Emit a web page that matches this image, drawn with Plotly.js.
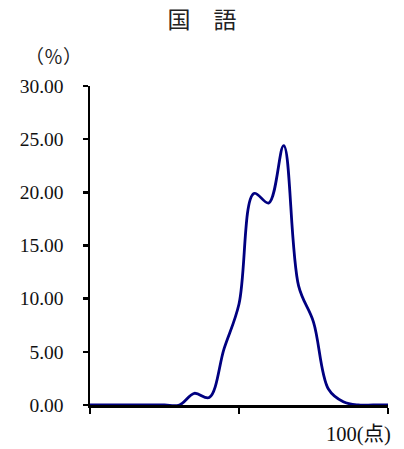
<!DOCTYPE html>
<html><head><meta charset="utf-8">
<script src="https://cdn.plot.ly/plotly-3.0.1.min.js"></script>
<style>html,body{margin:0;padding:0;background:#fff}#chart{width:404px;height:449px}</style>
</head><body><div id="chart"></div>
<script>
var scores = [0,5,10,15,20,25,30,35,40,45,50,55,60,65,70,75,80,85,90,95,100];
var percents = [0,0,0,0,0,0,0,1.1,0.7,5.3,9.5,19.9,19.0,24.4,11.2,7.8,1.5,0.3,0,0,0];
var yTicks = [0,5,10,15,20,25,30];
var xTicks = [0,50,100];
var titleText = '国　語';
var unitY = '（％）';
var unitX = '100(点)';

var serif = '"Liberation Serif", "Noto Sans CJK JP", serif';
var cjk = '"Noto Sans CJK JP", sans-serif';
Plotly.newPlot('chart', [{
  x: scores, y: percents, type: 'scatter', mode: 'lines',
  line: {color: '#000080', width: 2.8, shape: 'spline', smoothing: 1},
  cliponaxis: false, hoverinfo: 'none'
}], {
  width: 404, height: 449,
  margin: {l: 90, r: 16, t: 86, b: 44},
  paper_bgcolor: '#fff', plot_bgcolor: '#fff',
  showlegend: false,
  font: {family: serif, color: '#000', size: 16},
  title: {text: titleText, xref: 'container', x: 0.5, xanchor: 'center',
          yref: 'container', y: 0.955, yanchor: 'middle',
          font: {family: cjk, size: 23, color: '#222'}},
  xaxis: {range: [0, 100], tickvals: xTicks, showticklabels: false,
          ticks: 'outside', ticklen: 6, tickwidth: 2.5, tickcolor: '#000',
          showline: true, linewidth: 2.5, linecolor: '#000',
          showgrid: false, zeroline: false, fixedrange: true},
  yaxis: {range: [0, 30], tickvals: yTicks, tickformat: '.2f',
          ticks: 'outside', ticklen: 5, tickwidth: 2.5, tickcolor: '#000',
          ticklabelstandoff: 15,
          showline: true, linewidth: 2.5, linecolor: '#000',
          showgrid: false, zeroline: false, fixedrange: true,
          tickfont: {family: serif, size: 19.5, color: '#111'}},
  annotations: [
    {text: unitY, xref: 'paper', yref: 'paper', x: -0.1225, y: 1.097,
     xanchor: 'center', yanchor: 'middle', showarrow: false,
     font: {family: cjk, size: 19, color: '#222'}},
    {text: unitX, xref: 'paper', yref: 'paper', x: 0.786, y: -0.094,
     xanchor: 'left', yanchor: 'middle', showarrow: false,
     font: {family: serif, size: 20.5, color: '#111'}}
  ]
}, {staticPlot: true, displayModeBar: false});
</script></body></html>
